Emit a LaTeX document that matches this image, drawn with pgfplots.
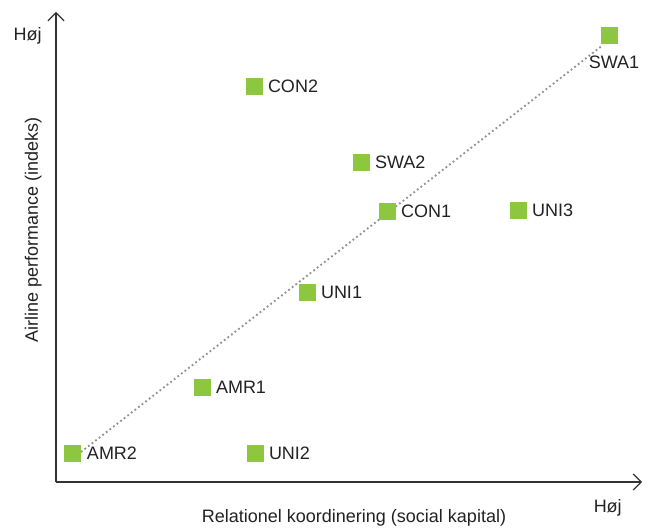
\documentclass[border=0pt]{standalone}
\usepackage{pgfplots}
\pgfplotsset{compat=1.18}
\usepackage{fontspec}
\setmainfont{Liberation Sans}
\usetikzlibrary{arrows.meta}
\definecolor{mgreen}{RGB}{141,198,63}
\definecolor{txt}{RGB}{34,34,34}
\definecolor{dotgray}{RGB}{145,145,145}
\begin{document}
\begin{tikzpicture}
\begin{axis}[
 scale only axis, width=439.5pt, height=352.5pt,
 xmin=56, xmax=642, ymin=45, ymax=515,
 axis lines=left,
 axis line style={draw=black!80, line width=0.9pt, -{Straight Barb[length=6pt,width=12pt]}},
 xtick=\empty, ytick=\empty,
 clip=false,
 font=\fontsize{13.5}{16}\selectfont,
]
\path (axis cs:0,0) rectangle (axis cs:648,527);
\addplot[dotgray, line width=1.4pt, line cap=butt, dash pattern=on 1.3pt off 2.1pt] coordinates {(81,75) (603,482)};
\addplot[color=mgreen, only marks, mark=square*, mark size=6pt, mark options={solid, fill=mgreen, draw=mgreen, line width=0pt},
  nodes near coords, point meta=explicit symbolic,
  nodes near coords style={anchor=base west, inner sep=0pt, xshift=10.5pt, yshift=-4.5pt, text=txt, font=\fontsize{13.5}{16}\selectfont}]
  table[meta=label] {
x y label
73 74 AMR2
255 74 UNI2
202 139 AMR1
307 234 UNI1
387 315 CON1
518 316 UNI3
361 364 SWA2
254 440.5 CON2
};
\addplot[color=mgreen, only marks, mark=square*, mark size=6pt, mark options={solid, fill=mgreen, draw=mgreen, line width=0pt},
  nodes near coords, point meta=explicit symbolic,
  nodes near coords style={anchor=base, inner sep=0pt, xshift=3.75pt, yshift=-24.75pt, text=txt, font=\fontsize{13.5}{16}\selectfont}]
  table[meta=label] {
x y label
609 491 SWA1
};
\node[anchor=base east, inner sep=0pt, text=txt] at (axis cs:42,486) {Høj};
\node[anchor=base east, inner sep=0pt, text=txt] at (axis cs:622,15) {Høj};
\node[anchor=base, inner sep=0pt, text=txt, rotate=90] at (axis cs:38,297) {Airline performance (indeks)};
\node[anchor=base, inner sep=0pt, text=txt] at (axis cs:354,5) {Relationel koordinering (social kapital)};
\end{axis}
\end{tikzpicture}
\end{document}
